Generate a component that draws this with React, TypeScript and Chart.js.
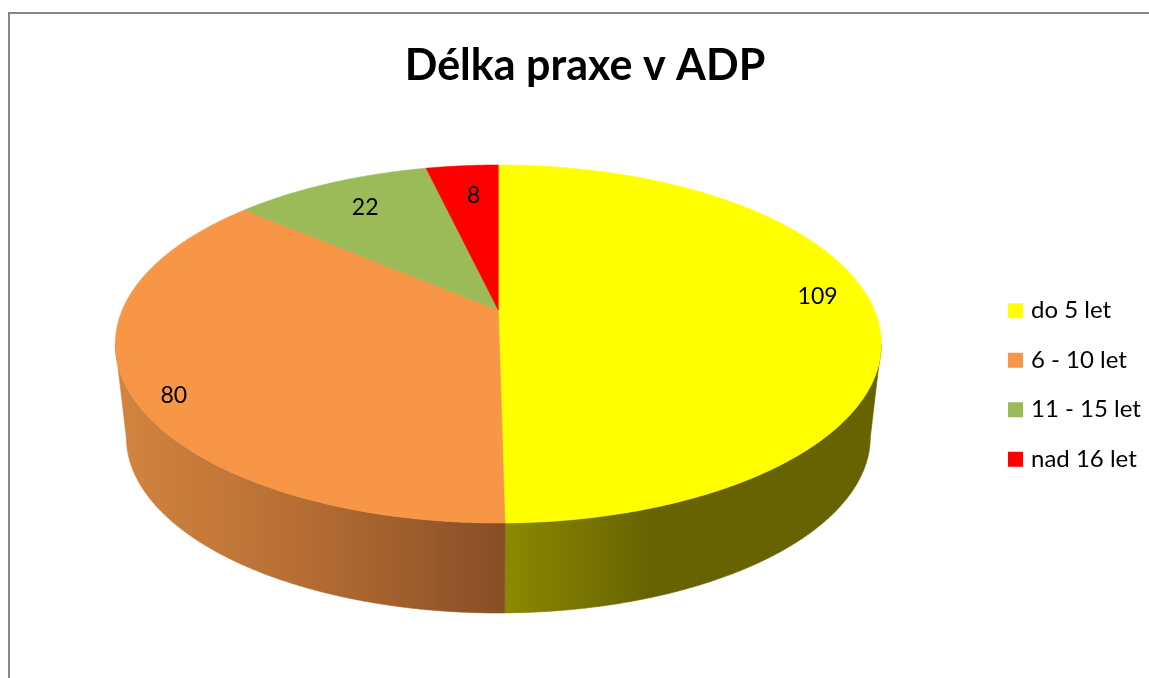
import React, { useEffect, useRef } from "react";
import { Chart, registerables } from "chart.js";

Chart.register(...registerables);

const categories = ["do 5 let", "6 - 10 let", "11 - 15 let", "nad 16 let"];
const counts = [109, 80, 22, 8];
const sliceColors = ["#FFFF00", "#F79646", "#9BBB59", "#FF0000"];
const chartTitle = "Délka praxe v ADP";

// Tilted-disc geometry, relative to the arc radius the pie controller computes.
const WIDTH_RATIO = 383 / 179;
const APEX_SHIFT = -0.19;
const BASE_DROP = 93 / 179;
const BASE_RX = 372 / 383;
const BASE_RY = 176 / 179;

// Where each value label sits: fraction of the radius, and turn off the bisector in degrees.
const labelReach = [0.865, 0.91, 0.776, 0.76];
const labelTurn = [-4.7, -4.9, 0.3, 0.9];

// Side wall shading per slice, as [x across the disc 0..1, colour].
const wallShades: [number, string][][] = [
  [[0.507, "#8C8900"], [0.7, "#666300"], [1, "#666300"]],
  [[0, "#D3853F"], [0.24, "#B66E34"], [0.37, "#A05F2D"], [0.507, "#874E26"]],
  [],
  [],
];

// Projects a point of the unit disc so that its centre moves to the apex
// and its rim stays on the rim, which gives the perspective slices.
function project(x: number, y: number) {
  const a = APEX_SHIFT;
  const d = 1 + a * y;
  return { x: (x * Math.sqrt(1 - a * a)) / d, y: (y + a) / d };
}

function rimPoints(start: number, end: number) {
  const pts: { x: number; y: number }[] = [];
  const steps = Math.max(2, Math.ceil((end - start) / 0.004));
  for (let i = 0; i <= steps; i++) {
    const t = start + ((end - start) * i) / steps;
    pts.push(project(Math.cos(t), Math.sin(t)));
  }
  return pts;
}

const tiltedPie = {
  id: "tiltedPie",
  afterLayout(chart: any) {
    chart.legend.left = 986.5;
    chart.legend.right = 1149;
    chart.legend.top += 41;
    chart.legend.bottom += 41;
    chart.titleBlock.left += 9;
  },
  beforeDatasetsDraw(chart: any) {
    const { ctx } = chart;
    const arcs = chart.getDatasetMeta(0).data;
    const first = arcs[0];
    const cx = first.x;
    const cy = first.y;
    const ry = first.outerRadius;
    const rx = ry * WIDTH_RATIO;

    arcs.forEach((arc: any, i: number) => {
      const front = rimPoints(arc.startAngle, arc.endAngle).filter((p) => p.y >= 0);
      if (front.length < 2 || wallShades[i].length === 0) return;
      const grad = ctx.createLinearGradient(cx - rx, 0, cx + rx, 0);
      wallShades[i].forEach(([at, color]) => grad.addColorStop(at, color));
      ctx.beginPath();
      front.forEach((p, k) => {
        const px = cx + rx * p.x;
        const py = cy + ry * p.y;
        if (k === 0) ctx.moveTo(px, py);
        else ctx.lineTo(px, py);
      });
      [...front].reverse().forEach((p) => {
        ctx.lineTo(cx + rx * BASE_RX * p.x, cy + ry * BASE_DROP + ry * BASE_RY * p.y);
      });
      ctx.closePath();
      ctx.fillStyle = grad;
      ctx.strokeStyle = grad;
      ctx.lineWidth = 0.6;
      ctx.fill();
      ctx.stroke();
    });

    const apex = project(0, 0);
    arcs.forEach((arc: any, i: number) => {
      ctx.beginPath();
      ctx.moveTo(cx + rx * apex.x, cy + ry * apex.y);
      rimPoints(arc.startAngle, arc.endAngle).forEach((p) => {
        ctx.lineTo(cx + rx * p.x, cy + ry * p.y);
      });
      ctx.closePath();
      ctx.fillStyle = sliceColors[i];
      ctx.strokeStyle = sliceColors[i];
      ctx.lineWidth = 0.6;
      ctx.fill();
      ctx.stroke();
    });

    ctx.fillStyle = "#000000";
    ctx.font = "23px Lato";
    ctx.textAlign = "center";
    ctx.textBaseline = "middle";
    arcs.forEach((arc: any, i: number) => {
      const mid = (arc.startAngle + arc.endAngle) / 2 + (labelTurn[i] * Math.PI) / 180;
      const p = project(labelReach[i] * Math.cos(mid), labelReach[i] * Math.sin(mid));
      ctx.fillText(String(counts[i]), cx + rx * p.x, cy + ry * p.y);
    });
    return false;
  },
};

export default function App() {
  const canvasRef = useRef<HTMLCanvasElement>(null);

  useEffect(() => {
    const chart = new Chart(canvasRef.current!, {
      type: "pie",
      data: {
        labels: categories,
        datasets: [{ data: counts, backgroundColor: sliceColors, borderWidth: 0 }],
      },
      options: {
        responsive: false,
        animation: false,
        layout: { padding: { left: 12, right: 0, top: 0, bottom: 155 } },
        plugins: {
          tooltip: { enabled: false },
          title: {
            display: true,
            text: chartTitle,
            color: "#000000",
            font: { family: "Lato", size: 43, weight: "bold", lineHeight: 1.2 },
            padding: { top: 40, bottom: 73.4 },
          },
          legend: {
            position: "right",
            fullSize: false,
            labels: {
              color: "#000000",
              font: { family: "Lato", size: 24, lineHeight: 1.2 },
              boxWidth: 7,
              boxHeight: 7,
              padding: 25.5,
              generateLabels: () =>
                categories.map((text, i) => ({
                  text,
                  fillStyle: sliceColors[i],
                  strokeStyle: sliceColors[i],
                  lineWidth: 8,
                  index: i,
                })),
            },
          },
        },
      },
      plugins: [tiltedPie],
    } as any);
    return () => chart.destroy();
  }, []);

  return (
    <div style={{ position: "absolute", left: 0, top: 0, width: 1149, height: 678, overflow: "hidden", background: "#ffffff" }}>
      <div style={{ position: "absolute", left: 8, top: 12, width: 2000, height: 2000, border: "2px solid #868686" }} />
      <canvas ref={canvasRef} width={1149} height={678} style={{ position: "absolute", left: 0, top: 0, display: "block" }} />
    </div>
  );
}
